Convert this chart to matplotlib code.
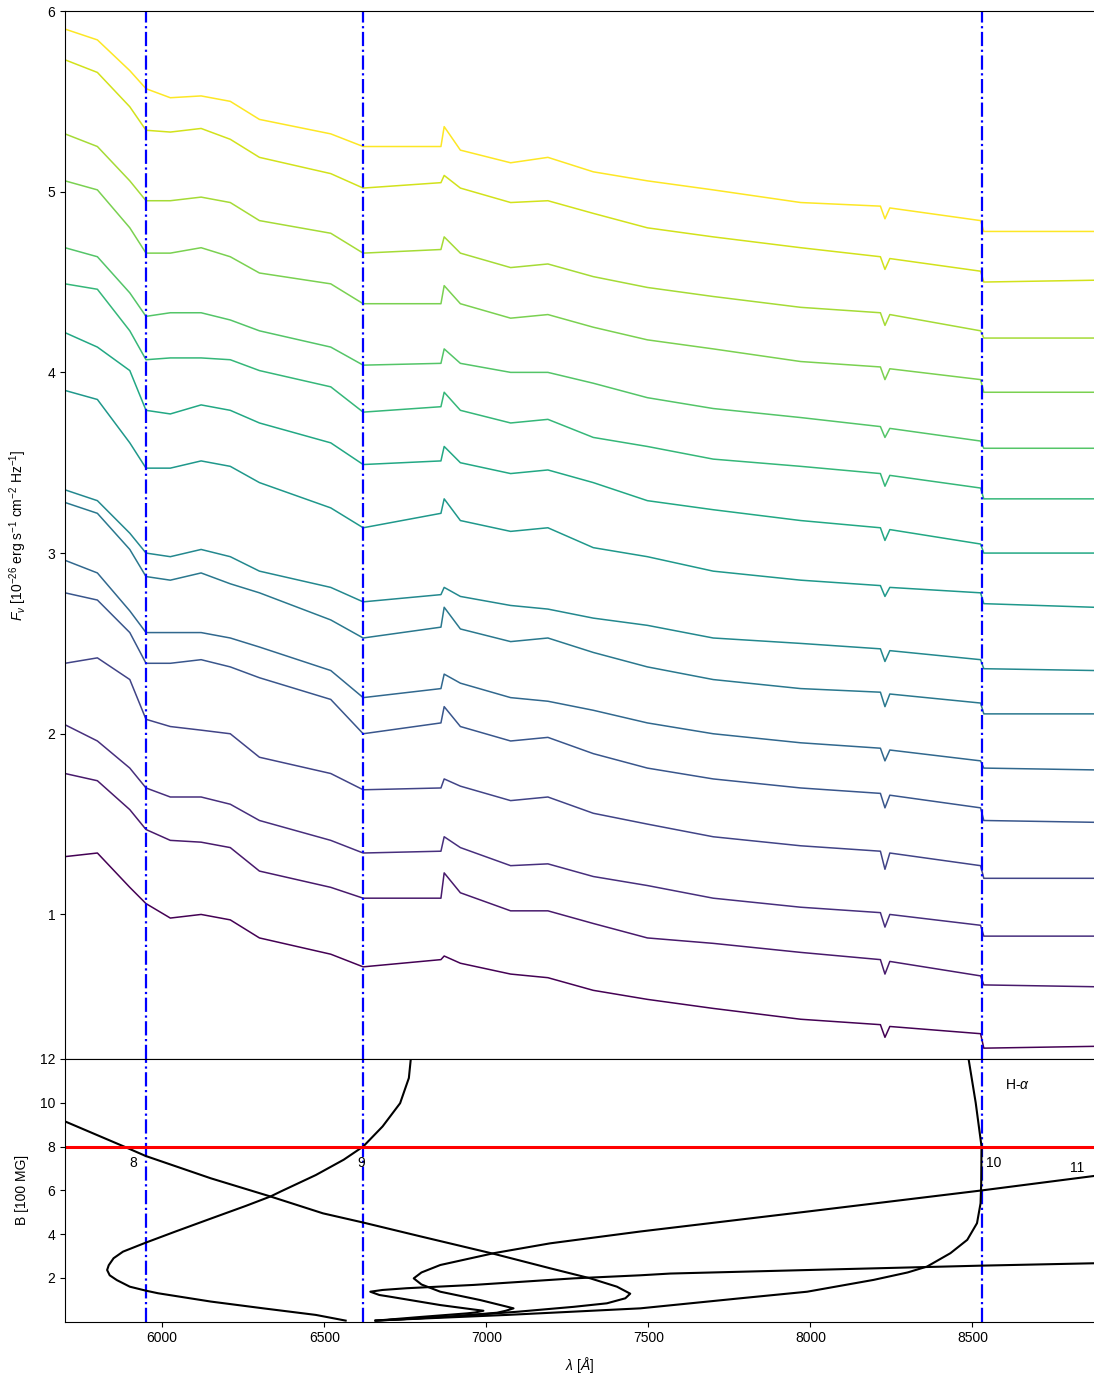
import numpy as np
import matplotlib
matplotlib.use('Agg')
import matplotlib.pyplot as plt

plt.rcParams['font.family'] = ['Liberation Sans', 'DejaVu Sans']
plt.rcParams['mathtext.fontset'] = 'custom'
plt.rcParams['mathtext.rm'] = 'Liberation Sans'
plt.rcParams['mathtext.it'] = 'Liberation Sans:italic'
plt.rcParams['font.size'] = 10

# wavelength grid of the spectra (Angstrom)
wave = [5700, 5800, 5900, 5950, 6025, 6120, 6210, 6300, 6520, 6620, 6860, 6870, 6920,
        7075, 7190, 7330, 7497, 7700, 7970, 8216, 8230, 8245, 8525, 8535, 8875]

# flux of each spectrum, bottom (first) to top (last), offset as in the plot
spec01 = [1.32, 1.34, 1.15, 1.06, 0.98, 1.00, 0.97, 0.87, 0.78, 0.71, 0.75, 0.77, 0.73, 0.67, 0.65, 0.58, 0.53, 0.48, 0.42, 0.39, 0.32, 0.38, 0.34, 0.26, 0.27]
spec02 = [1.78, 1.74, 1.58, 1.47, 1.41, 1.40, 1.37, 1.24, 1.15, 1.09, 1.09, 1.23, 1.12, 1.02, 1.02, 0.95, 0.87, 0.84, 0.79, 0.75, 0.67, 0.74, 0.66, 0.61, 0.60]
spec03 = [2.05, 1.96, 1.81, 1.70, 1.65, 1.65, 1.61, 1.52, 1.41, 1.34, 1.35, 1.43, 1.37, 1.27, 1.28, 1.21, 1.16, 1.09, 1.04, 1.01, 0.93, 1.00, 0.94, 0.88, 0.88]
spec04 = [2.39, 2.42, 2.30, 2.08, 2.04, 2.02, 2.00, 1.87, 1.78, 1.69, 1.70, 1.75, 1.71, 1.63, 1.65, 1.56, 1.50, 1.43, 1.38, 1.35, 1.25, 1.34, 1.27, 1.20, 1.20]
spec05 = [2.78, 2.74, 2.56, 2.39, 2.39, 2.41, 2.37, 2.31, 2.19, 2.00, 2.06, 2.15, 2.04, 1.96, 1.98, 1.89, 1.81, 1.75, 1.70, 1.67, 1.59, 1.66, 1.59, 1.52, 1.51]
spec06 = [2.96, 2.89, 2.68, 2.56, 2.56, 2.56, 2.53, 2.48, 2.35, 2.20, 2.25, 2.33, 2.28, 2.20, 2.18, 2.13, 2.06, 2.00, 1.95, 1.92, 1.85, 1.91, 1.85, 1.81, 1.80]
spec07 = [3.28, 3.22, 3.02, 2.87, 2.85, 2.89, 2.83, 2.78, 2.63, 2.53, 2.59, 2.70, 2.58, 2.51, 2.53, 2.45, 2.37, 2.30, 2.25, 2.23, 2.15, 2.22, 2.17, 2.11, 2.11]
spec08 = [3.35, 3.29, 3.11, 3.00, 2.98, 3.02, 2.98, 2.90, 2.81, 2.73, 2.77, 2.81, 2.76, 2.71, 2.69, 2.64, 2.60, 2.53, 2.50, 2.47, 2.40, 2.46, 2.41, 2.36, 2.35]
spec09 = [3.90, 3.85, 3.61, 3.47, 3.47, 3.51, 3.48, 3.39, 3.25, 3.14, 3.22, 3.30, 3.18, 3.12, 3.14, 3.03, 2.98, 2.90, 2.85, 2.82, 2.76, 2.81, 2.78, 2.72, 2.70]
spec10 = [4.22, 4.14, 4.01, 3.79, 3.77, 3.82, 3.79, 3.72, 3.61, 3.49, 3.51, 3.59, 3.50, 3.44, 3.46, 3.39, 3.29, 3.24, 3.18, 3.14, 3.07, 3.13, 3.05, 3.00, 3.00]
spec11 = [4.49, 4.46, 4.23, 4.07, 4.08, 4.08, 4.07, 4.01, 3.92, 3.78, 3.81, 3.89, 3.79, 3.72, 3.74, 3.64, 3.59, 3.52, 3.48, 3.44, 3.37, 3.43, 3.36, 3.30, 3.30]
spec12 = [4.69, 4.64, 4.44, 4.31, 4.33, 4.33, 4.29, 4.23, 4.14, 4.04, 4.05, 4.13, 4.05, 4.00, 4.00, 3.94, 3.86, 3.80, 3.75, 3.70, 3.64, 3.69, 3.62, 3.58, 3.58]
spec13 = [5.06, 5.01, 4.80, 4.66, 4.66, 4.69, 4.64, 4.55, 4.49, 4.38, 4.38, 4.48, 4.38, 4.30, 4.32, 4.25, 4.18, 4.13, 4.06, 4.03, 3.96, 4.02, 3.96, 3.89, 3.89]
spec14 = [5.32, 5.25, 5.06, 4.95, 4.95, 4.97, 4.94, 4.84, 4.77, 4.66, 4.68, 4.75, 4.66, 4.58, 4.60, 4.53, 4.47, 4.42, 4.36, 4.33, 4.26, 4.32, 4.23, 4.19, 4.19]
spec15 = [5.73, 5.66, 5.47, 5.34, 5.33, 5.35, 5.29, 5.19, 5.10, 5.02, 5.05, 5.09, 5.02, 4.94, 4.95, 4.88, 4.80, 4.75, 4.69, 4.64, 4.57, 4.63, 4.56, 4.50, 4.51]
spec16 = [5.90, 5.84, 5.67, 5.57, 5.52, 5.53, 5.50, 5.40, 5.32, 5.25, 5.25, 5.36, 5.23, 5.16, 5.19, 5.11, 5.06, 5.01, 4.94, 4.92, 4.85, 4.91, 4.84, 4.78, 4.78]

spectra = [spec01, spec02, spec03, spec04, spec05, spec06, spec07, spec08,
           spec09, spec10, spec11, spec12, spec13, spec14, spec15, spec16]

# wavelengths of the features at 800 MG
feature_waves = [5950, 6620, 8530]
b_obs = 8.0

# H-alpha component tracks: wavelength vs field strength (100 MG)
c8_wave = [5700, 5884, 5949, 6150, 6334, 6496, 6620, 6799, 7026, 7197, 7321, 7403, 7444,
           7429, 7372, 7270, 7100, 6900, 6660]
c8_b = [9.15, 7.99, 7.57, 6.55, 5.72, 4.95, 4.53, 3.89, 3.09, 2.44, 1.98, 1.60, 1.28,
        1.07, 0.84, 0.68, 0.46, 0.24, 0.05]
c9_wave = [6566, 6474, 6312, 6150, 5987, 5949, 5900, 5860, 5838, 5830, 5835, 5850, 5879,
           5949, 6041, 6150, 6258, 6334, 6366, 6474, 6560, 6620, 6680, 6734, 6761, 6767]
c9_b = [0.05, 0.31, 0.61, 0.92, 1.30, 1.42, 1.60, 1.90, 2.12, 2.36, 2.58, 2.90, 3.20,
        3.61, 4.12, 4.71, 5.29, 5.72, 5.95, 6.70, 7.40, 8.00, 8.92, 9.98, 11.13, 12.0]
c10_wave = [6657, 6858, 7064, 7270, 7475, 7784, 7990, 8195, 8300, 8360, 8432, 8484, 8514,
            8525, 8527, 8528, 8510, 8488]
c10_b = [0.05, 0.18, 0.31, 0.46, 0.61, 1.07, 1.37, 1.91, 2.25, 2.52, 3.13, 3.74, 4.50,
         5.41, 6.33, 8.00, 10.0, 12.0]
c11_wave = [8877, 8525, 7990, 7475, 7197, 7023, 6858, 6800, 6776, 6800, 6858, 6981, 7060,
            7084, 7060, 7033, 6900, 6700]
c11_b = [6.66, 5.99, 5.03, 4.12, 3.58, 3.13, 2.59, 2.25, 1.98, 1.70, 1.37, 0.99, 0.70,
         0.61, 0.50, 0.41, 0.25, 0.08]
c12_wave = [8877, 8525, 7990, 7568, 7475, 7270, 6961, 6755, 6680, 6642, 6670, 6704, 6858,
            6960, 6991, 6965, 6940, 6800, 6660]
c12_b = [2.67, 2.56, 2.36, 2.20, 2.12, 1.98, 1.68, 1.53, 1.45, 1.37, 1.22, 1.14, 0.76,
         0.56, 0.50, 0.42, 0.38, 0.22, 0.05]

track_labels = ['8', '9', '10', '11']
label_wave = [5911, 6613, 8566, 8824]
label_b = [7.24, 7.24, 7.24, 7.0]

fig = plt.figure(figsize=(10.94, 13.82), dpi=100)
ax1 = fig.add_axes([0.0594, 0.23372, 0.9406, 0.75832])
ax2 = fig.add_axes([0.0594, 0.04363, 0.9406, 0.19009], sharex=ax1)

# spectra
colors = plt.cm.viridis(np.linspace(0, 1, len(spectra)))
for flux, col in zip(spectra, colors):
    ax1.plot(wave, flux, color=col, lw=1.1)

for w in feature_waves:
    ax1.axvline(w, color='blue', ls='-.', lw=1.6)
    ax2.axvline(w, color='blue', ls='-.', lw=1.6)

ax1.set_ylim(0.2, 6)
ax1.set_yticks([1, 2, 3, 4, 5, 6])
ax1.set_ylabel(r'$F_\nu$ [10$^{-26}$ erg s$^{-1}$ cm$^{-2}$ Hz$^{-1}$]')
ax1.tick_params(bottom=False, labelbottom=False)
ax1.spines['right'].set_visible(False)

# field tracks
for xw, yb in [(c8_wave, c8_b), (c9_wave, c9_b), (c10_wave, c10_b),
               (c11_wave, c11_b), (c12_wave, c12_b)]:
    ax2.plot(xw, yb, color='black', lw=1.5)
ax2.axhline(b_obs, color='red', lw=2.2)

for lab, lx, ly in zip(track_labels, label_wave, label_b):
    ax2.text(lx, ly, lab, ha='center', va='center', fontsize=10)
ax2.text(8639, 10.8, r'H-$\alpha$', ha='center', va='center', fontsize=10)

ax2.set_xlim(5700, 8875)
ax2.set_ylim(0, 12)
ax2.set_yticks([2, 4, 6, 8, 10, 12])
ax2.set_xticks([6000, 6500, 7000, 7500, 8000, 8500])
ax2.set_ylabel('B [100 MG]')
ax2.set_xlabel(r'$\lambda$ [$\AA$]')
ax2.spines['right'].set_visible(False)

ax1.yaxis.set_label_coords(-0.035, 0.5)
ax2.yaxis.set_label_coords(-0.035, 0.5)
ax2.xaxis.set_label_coords(0.5, -0.125)

fig.savefig('out.png', dpi=100)
